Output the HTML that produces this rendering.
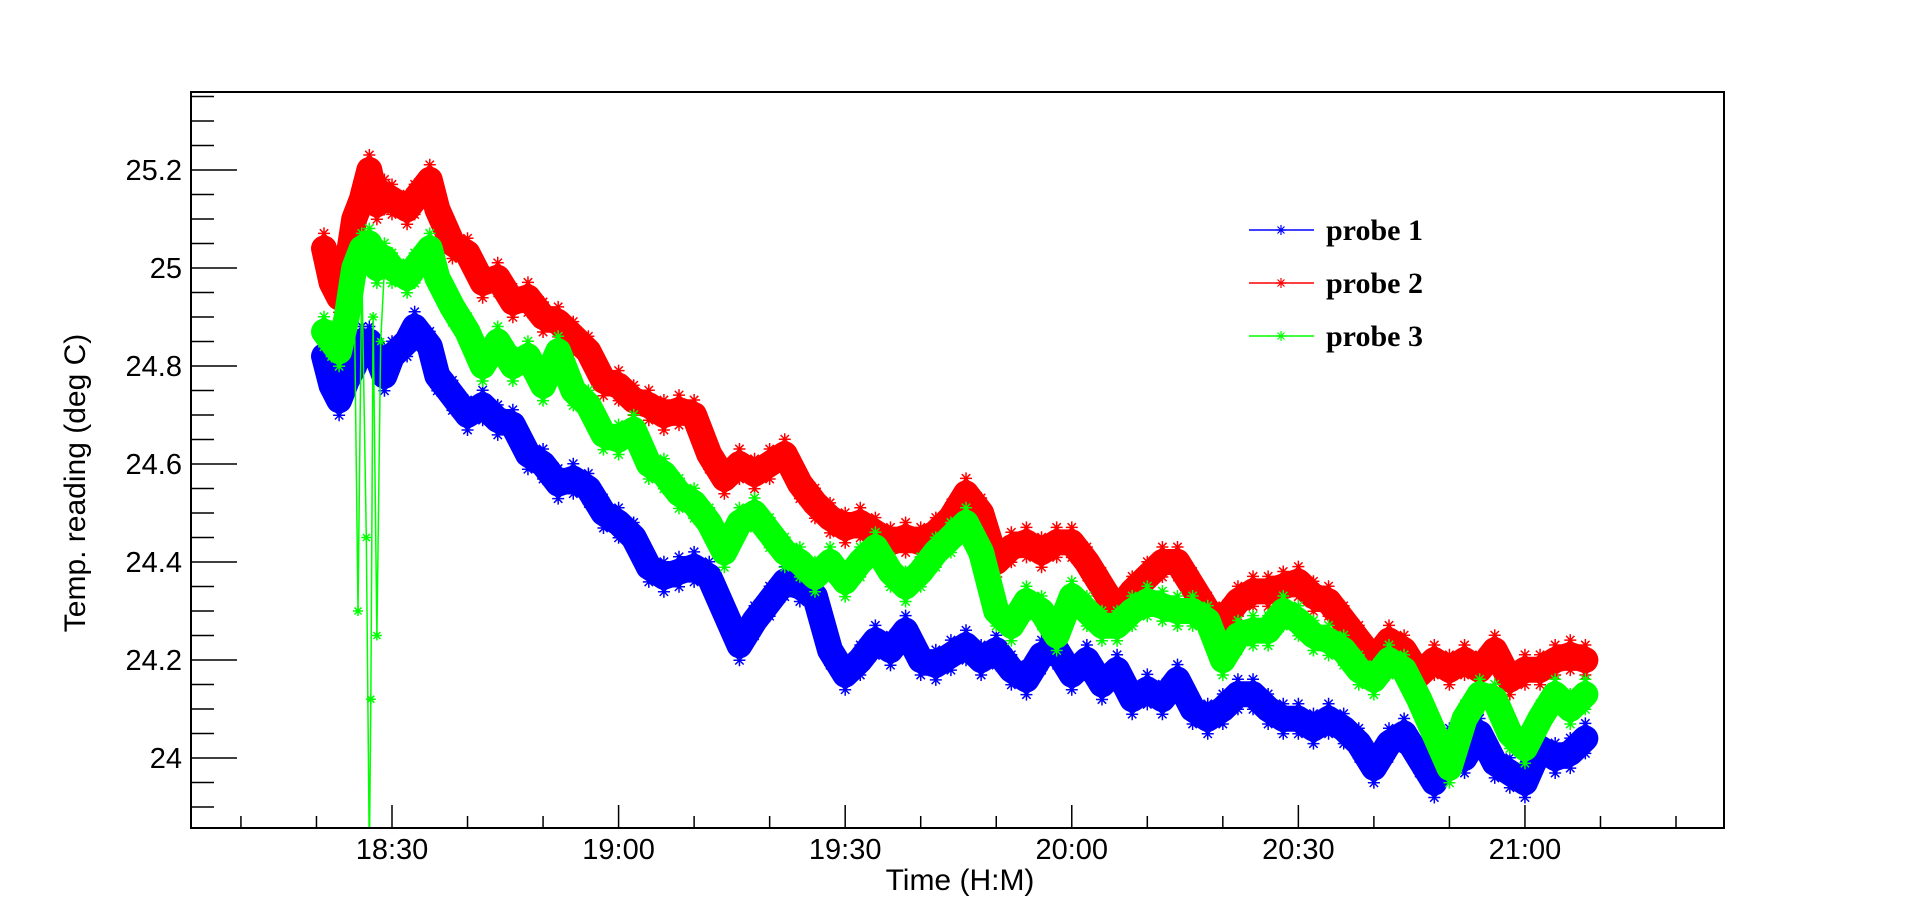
<!DOCTYPE html>
<html><head><meta charset="utf-8"><style>
html,body{margin:0;padding:0;background:#fff;}
svg{display:block;}
text{font-family:"Liberation Sans",sans-serif;}
</style></head><body>
<svg id="chart" width="1916" height="920" viewBox="0 0 1916 920">
<rect x="0" y="0" width="1916" height="920" fill="#fff"/>
<defs><clipPath id="plotclip"><rect x="191" y="92" width="1533" height="736"/></clipPath></defs>
<g id="series" clip-path="url(#plotclip)"></g>
<rect x="191" y="92" width="1533" height="736" fill="none" stroke="#000" stroke-width="2"/>
<g id="axes"></g>
<text x="960" y="890" font-size="30" text-anchor="middle">Time (H:M)</text>
<text x="0" y="0" font-size="30" text-anchor="middle" transform="translate(85,483) rotate(-90)">Temp. reading (deg C)</text>
<g id="legend"></g>
</svg>
<script>
// minutes since 18:00
const times = [21,22,23,24,25,26,27,28,29,30,32,33,35,36,38,40,42,44,46,48,50,52,54,56,58,60,62,64,66,68,70,72,74,76,78,80,82,84,86,88,90,92,94,96,98,100,102,104,106,108,110,112,114,116,118,120,122,124,126,128,130,132,134,136,138,140,142,144,146,148,150,152,154,156,158,160,162,164,166,168,170,172,174,176,178,180,182,184,186,188];
const probe1 = [24.82,24.76,24.73,24.77,24.80,24.85,24.85,24.82,24.78,24.82,24.85,24.88,24.84,24.78,24.74,24.70,24.72,24.69,24.68,24.62,24.60,24.56,24.57,24.55,24.50,24.48,24.45,24.39,24.37,24.38,24.39,24.37,24.30,24.23,24.28,24.32,24.36,24.35,24.33,24.22,24.17,24.20,24.24,24.22,24.26,24.20,24.19,24.21,24.23,24.20,24.22,24.18,24.16,24.21,24.22,24.17,24.20,24.15,24.18,24.12,24.14,24.12,24.16,24.10,24.08,24.10,24.13,24.13,24.10,24.08,24.08,24.06,24.08,24.06,24.03,23.98,24.03,24.05,24.00,23.95,24.03,24.00,24.05,23.99,23.97,23.95,24.02,24.00,24.01,24.04];
const probe2 = [25.04,24.97,24.94,25.00,25.10,25.14,25.20,25.13,25.15,25.14,25.12,25.14,25.18,25.12,25.05,25.03,24.97,24.98,24.93,24.94,24.90,24.89,24.86,24.83,24.77,24.76,24.73,24.72,24.70,24.71,24.70,24.62,24.57,24.60,24.58,24.60,24.62,24.56,24.52,24.49,24.47,24.48,24.46,24.44,24.45,24.44,24.46,24.49,24.54,24.50,24.40,24.43,24.44,24.42,24.44,24.44,24.40,24.35,24.30,24.34,24.37,24.40,24.40,24.35,24.30,24.28,24.32,24.34,24.34,24.35,24.36,24.33,24.32,24.28,24.24,24.20,24.24,24.22,24.17,24.20,24.18,24.20,24.18,24.22,24.16,24.18,24.18,24.20,24.21,24.20];
const probe3 = [24.87,24.85,24.83,24.90,25.00,25.04,25.05,25.00,25.02,25.00,24.98,25.00,25.04,24.98,24.92,24.87,24.80,24.85,24.80,24.82,24.76,24.83,24.75,24.72,24.66,24.65,24.67,24.60,24.58,24.54,24.52,24.48,24.42,24.48,24.50,24.46,24.42,24.40,24.37,24.40,24.36,24.40,24.43,24.38,24.35,24.38,24.42,24.45,24.48,24.42,24.30,24.27,24.32,24.30,24.25,24.33,24.30,24.27,24.27,24.30,24.32,24.31,24.30,24.30,24.28,24.20,24.25,24.26,24.26,24.30,24.28,24.25,24.24,24.22,24.18,24.16,24.20,24.18,24.12,24.05,23.98,24.08,24.13,24.12,24.05,24.02,24.08,24.13,24.10,24.13];
// probe 3 glitch spikes
const spikeTimes = [25,25.5,26,26.6,27,27.2,27.5,28,28.5,29];
const spikeValues = [24.95,24.30,25.00,24.45,23.80,24.12,24.90,24.25,24.85,25.0];
const xTicks = [10,20,30,40,50,60,70,80,90,100,110,120,130,140,150,160,170,180,190,200];
const xLabels = ["18:30","19:00","19:30","20:00","20:30","21:00"];
const xLabelMins = [30,60,90,120,150,180];
const yLabelVals = [24,24.2,24.4,24.6,24.8,25,25.2];
const yLabels = ["24","24.2","24.4","24.6","24.8","25","25.2"];

const NS="http://www.w3.org/2000/svg";
function X(m){return 392+(m-30)*7.553;}
function Y(v){return 268-(v-25)*490;}
function mk(tag,attrs,parent){const e=document.createElementNS(NS,tag);for(const k in attrs)e.setAttribute(k,attrs[k]);parent.appendChild(e);return e;}
const sg=document.getElementById('series'), ag=document.getElementById('axes'), lg=document.getElementById('legend');

function star(cx,cy,r,color,parent,stroke){
  const d=`M${cx-r},${cy}H${cx+r}M${cx},${cy-r}V${cy+r}M${cx-r*0.7},${cy-r*0.7}L${cx+r*0.7},${cy+r*0.7}M${cx-r*0.7},${cy+r*0.7}L${cx+r*0.7},${cy-r*0.7}`;
  return mk('path',{d:d,stroke:color,'stroke-width':stroke||1.5,fill:'none'},parent);
}
function drawSeries(vals,color,name){
  const g=mk('g',{},sg);
  
  
  const pts=times.map((t,i)=>X(t)+','+Y(vals[i])).join(' ');
  const band=mk('polyline',{points:pts,fill:'none',stroke:color,'stroke-width':26,'stroke-linejoin':'round','stroke-linecap':'round'},g);
  
  
  times.forEach((t,i)=>{
    const s1=star(X(t),Y(vals[i])-15,6,color,g);
    
    
    const s2=star(X(t),Y(vals[i])+15,6,color,g);
    
    
  });
  return g;
}
drawSeries(probe1,'#0000ff','probe-1');
drawSeries(probe2,'#ff0000','probe-2');
const g3=drawSeries(probe3,'#00ff00','probe-3');
const sp=mk('polyline',{points:spikeTimes.map((t,i)=>X(t)+','+Y(spikeValues[i])).join(' '),fill:'none',stroke:'#00ff00','stroke-width':1.5},g3);


spikeTimes.forEach((t,i)=>{const s=star(X(t),Y(spikeValues[i]),5,'#00ff00',g3);
  
  });

// x ticks
xTicks.forEach(m=>{
  if(X(m)>1722)return;
  const major=(m%30===0);
  const t=mk('line',{x1:X(m),x2:X(m),y1:828,y2:828-(major?23:12),stroke:'#000','stroke-width':1.5},ag);
  
  
});
xLabelMins.forEach((m,i)=>{
  const t=mk('text',{x:X(m),y:859,'font-size':29,'text-anchor':'middle'},ag);
  t.textContent=xLabels[i];
  
  
});
// y ticks
for(let k=0;k<=31;k++){
  const v=23.85+k*0.05; const vv=Math.round(v*100)/100;
  if(Y(vv)<93||Y(vv)>827)continue;
  const major=Math.abs(vv*5-Math.round(vv*5))<1e-6;
  const t=mk('line',{x1:191,x2:191+(major?46:23),y1:Y(vv),y2:Y(vv),stroke:'#000','stroke-width':1.5},ag);
  
  
}
yLabelVals.forEach((v,i)=>{
  const t=mk('text',{x:182,y:Y(v)+10,'font-size':29,'text-anchor':'end'},ag);
  t.textContent=yLabels[i];
  
  
});
// legend
const legNames=["probe 1","probe 2","probe 3"], legColors=['#0000ff','#ff0000','#00ff00'];
legNames.forEach((n,i)=>{
  const y=230+i*53;
  const e=mk('g',{},lg);
  
  
  mk('line',{x1:1249,x2:1314,y1:y,y2:y,stroke:legColors[i],'stroke-width':1.5},e);
  star(1281,y,5,legColors[i],e,1.2);
  const t=mk('text',{x:1326,y:y+10,'font-size':30,'font-weight':'bold','style':'font-family:"Liberation Serif",serif'},e);
  t.textContent=n;
});
</script>
</body></html>
